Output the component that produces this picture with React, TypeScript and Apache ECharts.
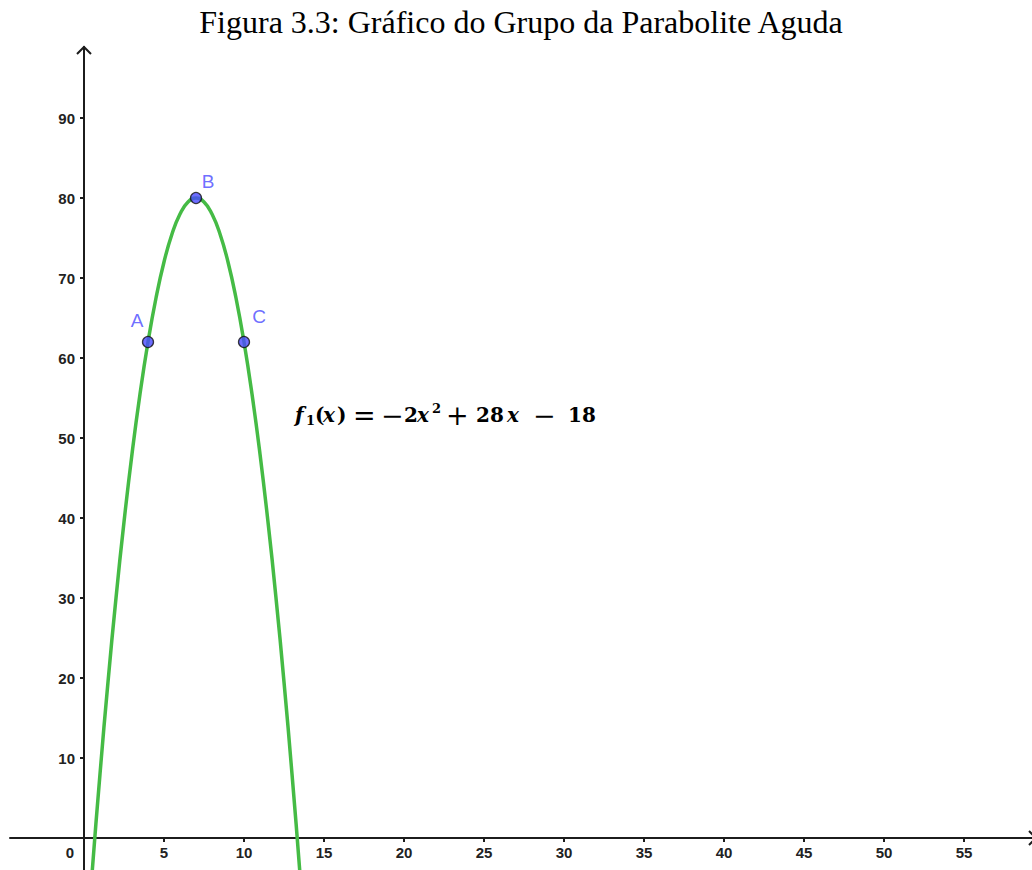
import React, { useEffect, useRef } from "react";
import * as echarts from "echarts";

// Samples of f1(x) = -2x^2 + 28x - 18, every half unit from x = 0 to x = 14
const curveX = [0, 0.5, 1, 1.5, 2, 2.5, 3, 3.5, 4, 4.5, 5, 5.5, 6, 6.5, 7, 7.5, 8, 8.5, 9, 9.5, 10, 10.5, 11, 11.5, 12, 12.5, 13, 13.5, 14];
const curveY = [-18, -4.5, 8, 19.5, 30, 39.5, 48, 55.5, 62, 67.5, 72, 75.5, 78, 79.5, 80, 79.5, 78, 75.5, 72, 67.5, 62, 55.5, 48, 39.5, 30, 19.5, 8, -4.5, -18];

// Named points on the curve
const pointNames = ["A", "B", "C"];
const pointX = [4, 7, 10];
const pointY = [62, 80, 62];

// Axis tick values
const xTicks = [5, 10, 15, 20, 25, 30, 35, 40, 45, 50, 55];
const xLabels = [0, 5, 10, 15, 20, 25, 30, 35, 40, 45, 50, 55];
const yTicks = [10, 20, 30, 40, 50, 60, 70, 80, 90];

const titleText = "Figura 3.3: Gráfico do Grupo da Parabolite Aguda";

// Pieces of the formula f1(x) = -2x^2 + 28x - 18: [text, kind, x offset]
const formulaParts: [string, string, number][] = [
  ["f", "i", 0],
  ["1", "sub", 11],
  ["(", "n", 20],
  ["x", "i", 28],
  [")", "n", 42],
  ["=", "op", 58],
  ["−", "op", 86],
  ["2", "n", 109],
  ["x", "i", 122],
  ["2", "sup", 137],
  ["+", "op", 151],
  ["28", "n", 181],
  ["x", "i", 212],
  ["−", "op", 238],
  ["18", "n", 273],
];

const AXIS_COLOR = "#1c1c1c";
const CURVE_COLOR = "#45bb45";
const POINT_COLOR = "#4848ff";

export default function App() {
  const ref = useRef<HTMLDivElement>(null);

  useEffect(() => {
    if (!ref.current) return;
    const chart = echarts.init(ref.current, undefined, { renderer: "svg" });

    const W = 1032;
    const H = 870;
    const GRID_LEFT = 10;
    const GRID_TOP = 47;
    const X_MIN = -4.625;
    const X_MAX = 59.25;
    const Y_MIN = -4;
    const Y_MAX = 98.875;

    // The axes cross at the origin: shift each axis inward from the grid edge
    const gridW = W - GRID_LEFT;
    const gridH = H - GRID_TOP;
    const yAxisOffset = -((0 - X_MIN) / (X_MAX - X_MIN)) * gridW;
    const xAxisOffset = -((0 - Y_MIN) / (Y_MAX - Y_MIN)) * gridH;

    const labelOffsets: Record<string, [number, number]> = {
      A: [-11, -22],
      B: [12, -17],
      C: [15, -26],
    };

    const tickLabelStyle = {
      fontFamily: "Liberation Sans, Arial, sans-serif",
      fontWeight: "bold" as const,
      fontSize: 15,
      color: "#222",
    };

    chart.setOption({
      animation: false,
      backgroundColor: "#ffffff",
      grid: {
        left: GRID_LEFT,
        right: 0,
        top: GRID_TOP,
        bottom: 0,
        containLabel: false,
        outerBoundsMode: "none",
      },
      xAxis: {
        type: "value",
        position: "bottom",
        offset: xAxisOffset,
        min: X_MIN,
        max: X_MAX,
        axisLine: { onZero: false, lineStyle: { color: AXIS_COLOR, width: 2 } },
        axisTick: { show: true, customValues: xTicks, length: 4, lineStyle: { color: AXIS_COLOR, width: 2 } },
        axisLabel: {
          customValues: xLabels,
          margin: 7,
          ...tickLabelStyle,
          formatter: (v: number) => (v === 0 ? "{z|0}" : String(v)),
          rich: {
            z: { ...tickLabelStyle, padding: [0, 28, 0, 0] },
          },
        },
        splitLine: { show: false },
      },
      yAxis: {
        type: "value",
        position: "left",
        offset: yAxisOffset,
        min: Y_MIN,
        max: Y_MAX,
        axisLine: { onZero: false, lineStyle: { color: AXIS_COLOR, width: 2 } },
        axisTick: { show: true, customValues: yTicks, length: 4, lineStyle: { color: AXIS_COLOR, width: 2 } },
        axisLabel: { customValues: yTicks, margin: 9, ...tickLabelStyle },
        splitLine: { show: false },
      },
      series: [
        {
          type: "line",
          data: curveX.map((x, i) => [x, curveY[i]]),
          smooth: true,
          showSymbol: false,
          clip: true,
          lineStyle: { color: CURVE_COLOR, width: 3.5 },
          z: 2,
        },
        {
          type: "scatter",
          data: pointNames.map((n, i) => ({
            name: n,
            value: [pointX[i], pointY[i]],
            label: { offset: labelOffsets[n] },
          })),
          symbol: "circle",
          symbolSize: 11,
          itemStyle: { color: POINT_COLOR, borderColor: "#111", borderWidth: 1.3 },
          label: {
            show: true,
            position: "inside",
            formatter: (p: any) => p.name,
            fontFamily: "Liberation Sans, Arial, sans-serif",
            fontSize: 19,
            color: POINT_COLOR,
          },
          z: 3,
        },
      ],
    });

    // Arrowheads at the ends of both axes
    const top = chart.convertToPixel({ gridIndex: 0 }, [0, Y_MAX]) as number[];
    const right = chart.convertToPixel({ gridIndex: 0 }, [X_MAX, 0]) as number[];

    const mathFont = "DejaVu Serif, Liberation Serif, serif";
    const partStyle = (kind: string) => {
      const s: any = { fontFamily: mathFont, fontWeight: "bold", fontSize: 20, fill: "#000", align: "left", verticalAlign: "middle" };
      if (kind === "i") s.fontStyle = "italic";
      if (kind === "sub" || kind === "sup") s.fontSize = 13;
      if (kind === "op") { s.fontSize = 27; s.fontWeight = "normal"; }
      return s;
    };
    const partY = (kind: string) => (kind === "sup" ? -7 : kind === "sub" ? 5 : 0);

    chart.setOption({
      graphic: [
        {
          type: "text",
          x: 521,
          y: 6,
          style: {
            text: titleText,
            fontFamily: "Liberation Serif, Times New Roman, serif",
            fontSize: 32,
            fill: "#000",
            align: "center",
            verticalAlign: "top",
          },
        },
        {
          type: "polyline",
          shape: { points: [[top[0] - 7, top[1] + 7], [top[0], top[1]], [top[0] + 7, top[1] + 7]] },
          style: { stroke: AXIS_COLOR, lineWidth: 2, fill: "none" },
          z: 10,
        },
        {
          type: "polyline",
          shape: { points: [[right[0] - 3, right[1] - 7], [right[0] + 4, right[1]], [right[0] - 3, right[1] + 7]] },
          style: { stroke: AXIS_COLOR, lineWidth: 2, fill: "none" },
          z: 10,
        },
        {
          type: "group",
          x: 295,
          y: 415,
          z: 10,
          children: formulaParts.map(([t, kind, dx]) => ({
            type: "text",
            x: dx,
            y: partY(kind),
            style: { text: t, ...partStyle(kind) },
          })),
        },
      ],
    });

    return () => chart.dispose();
  }, []);

  return (
    <div
      ref={ref}
      style={{ position: "fixed", left: 0, top: 0, width: 1032, height: 870, background: "#fff" }}
    />
  );
}
